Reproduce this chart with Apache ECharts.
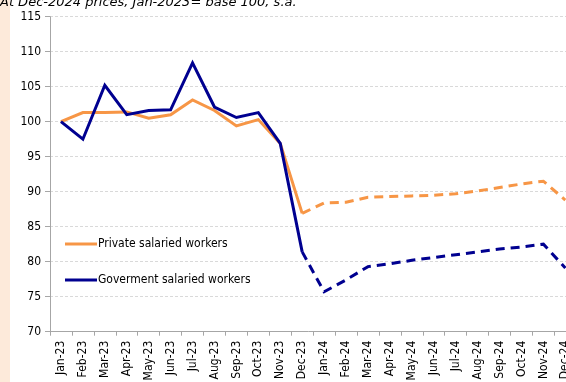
<!DOCTYPE html>
<html>
<head>
<meta charset="utf-8">
<script src="https://cdn.jsdelivr.net/npm/echarts@6/dist/echarts.min.js"></script>
<style>
  html, body { margin: 0; padding: 0; background: #ffffff; }
  #chart { width: 566px; height: 382px; }
</style>
</head>
<body>
<div id="chart"></div>
<script>
// Monthly categories, Jan-23 .. Dec-24
const months = ['Jan-23','Feb-23','Mar-23','Apr-23','May-23','Jun-23','Jul-23','Aug-23','Sep-23','Oct-23','Nov-23','Dec-23',
                'Jan-24','Feb-24','Mar-24','Apr-24','May-24','Jun-24','Jul-24','Aug-24','Sep-24','Oct-24','Nov-24','Dec-24'];

// Real salary index (Jan-2023 = 100)
const privateWorkers = [100, 101.3, 101.3, 101.4, 100.5, 101.0, 103.1, 101.6, 99.4, 100.3, 96.9, 86.9,
                        88.4, 88.5, 89.2, 89.3, 89.4, 89.5, 89.7, 90.1, 90.6, 91.1, 91.5, 88.8];
const governmentWorkers = [100, 97.5, 105.2, 101.0, 101.6, 101.7, 108.4, 102.1, 100.6, 101.3, 96.9, 81.4,
                           75.7, 77.4, 79.3, 79.7, 80.2, 80.6, 81.0, 81.4, 81.8, 82.1, 82.5, 79.1];

// Index of the last observed month; later months are drawn dashed
const lastActual = 11;

const yTicks = [70, 75, 80, 85, 90, 95, 100, 105, 110, 115];

const seriesNames = ['Private salaried workers', 'Goverment salaried workers'];
const seriesColors = ['#F79646', '#000090'];

function actualPart(arr) { return arr.map((v, i) => (i <= lastActual ? v : null)); }
function projectedPart(arr) { return arr.map((v, i) => (i >= lastActual ? v : null)); }

const fontFamily = '"DejaVu Sans Condensed", "DejaVu Sans", sans-serif';

const chart = echarts.init(document.getElementById('chart'), null, { renderer: 'canvas' });

function lineSeries(name, data, color, dashed) {
  return {
    name: name,
    type: 'line',
    data: data,
    symbol: 'none',
    connectNulls: false,
    silent: true,
    z: dashed ? 2 : 3,
    lineStyle: {
      color: color,
      width: 3,
      type: dashed ? [9, 6] : 'solid',
      cap: 'butt',
      join: 'miter'
    },
    itemStyle: { color: color }
  };
}

chart.setOption({
  animation: false,
  backgroundColor: '#ffffff',
  graphic: [
    { type: 'rect', left: 0, top: 0, shape: { width: 10, height: 382 }, style: { fill: '#FDEADA' }, z: -10 },
    {
      type: 'text', x: 0, y: -4,
      style: {
        text: 'At Dec-2024 prices, Jan-2023= base 100, s.a.',
        font: 'italic 13px "DejaVu Sans", sans-serif',
        fill: '#000000'
      }
    }
  ],
  // the plot area runs past the right edge of the canvas, so Dec-24 is clipped
  grid: { left: 50, top: 16.7, width: 526.3, height: 315, containLabel: false, outerBoundsMode: 'none' },
  legend: {
    orient: 'vertical',
    left: 65,
    top: 238,
    padding: 0,
    icon: 'rect',
    itemWidth: 32,
    itemHeight: 3,
    itemGap: 24,
    data: seriesNames,
    textStyle: { fontFamily: fontFamily, fontSize: 12, color: '#000000', padding: [0, 0, 0, -4] }
  },
  xAxis: {
    type: 'category',
    data: months,
    boundaryGap: true,
    axisLine: { lineStyle: { color: '#A6A6A6', width: 1 } },
    axisTick: { show: true, length: 4, alignWithLabel: false, lineStyle: { color: '#A6A6A6' } },
    axisLabel: { rotate: 90, interval: 0, margin: 9, fontFamily: fontFamily, fontSize: 12, color: '#000000' },
    splitLine: { show: false }
  },
  yAxis: {
    type: 'value',
    min: yTicks[0],
    max: yTicks[yTicks.length - 1],
    interval: 5,
    axisLine: { show: true, lineStyle: { color: '#A6A6A6', width: 1 } },
    axisTick: { show: true, length: 5, lineStyle: { color: '#A6A6A6' } },
    axisLabel: { margin: 9, fontFamily: fontFamily, fontSize: 12, color: '#000000' },
    splitLine: { show: true, lineStyle: { color: '#D9D9D9', type: [3, 2], width: 1 } }
  },
  series: [
    lineSeries(seriesNames[0], actualPart(privateWorkers), seriesColors[0], false),
    lineSeries(seriesNames[1], actualPart(governmentWorkers), seriesColors[1], false),
    lineSeries(seriesNames[0] + ' (proj.)', projectedPart(privateWorkers), seriesColors[0], true),
    lineSeries(seriesNames[1] + ' (proj.)', projectedPart(governmentWorkers), seriesColors[1], true)
  ]
});
</script>
</body>
</html>
